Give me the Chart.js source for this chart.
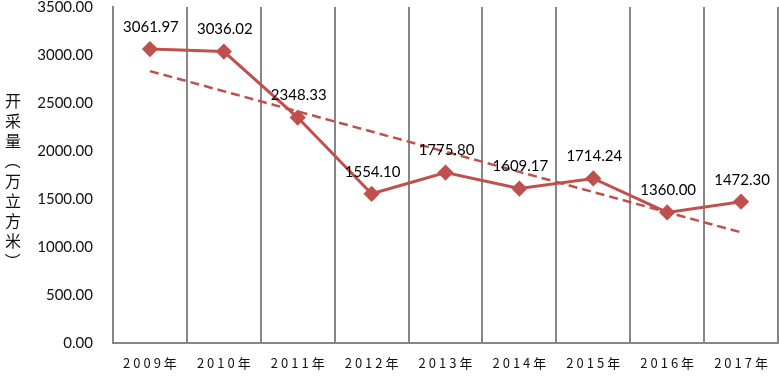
<!DOCTYPE html>
<html><head><meta charset="utf-8">
<script src="https://cdn.jsdelivr.net/npm/chart.js@4/dist/chart.umd.min.js"></script>
<style>html,body{margin:0;padding:0;background:#fff}#wrap{width:779px;height:377px}</style>
</head><body><div id="wrap"><canvas id="c"></canvas></div>
<script>
const categories = ['2009年','2010年','2011年','2012年','2013年','2014年','2015年','2016年','2017年'];
const values = [3061.97, 3036.02, 2348.33, 1554.10, 1775.80, 1609.17, 1714.24, 1360.00, 1472.30];
const yTicks = [0, 500, 1000, 1500, 2000, 2500, 3000, 3500];
const yTitle = '开采量（万立方米）';

// linear trend line (least squares) through the series, like a spreadsheet trendline
const n = values.length;
const mx = (n - 1) / 2;
const my = values.reduce((a, b) => a + b, 0) / n;
let sxy = 0, sxx = 0;
values.forEach((v, i) => { sxy += (i - mx) * (v - my); sxx += (i - mx) * (i - mx); });
const slope = sxy / sxx;
const trend = values.map((v, i) => my + slope * (i - mx));

const RED = '#C0504D';
const GRID = '#878787';

function zeroPad(s) { s.paddingTop = 0; s.paddingBottom = 0; s.paddingLeft = 0; s.paddingRight = 0; }

const labelsPlugin = {
  id: 'extras',
  afterDraw(chart) {
    const ctx = chart.ctx;
    const meta = chart.getDatasetMeta(0);
    ctx.save();
    ctx.fillStyle = '#000';
    ctx.font = '15px Lato';
    ctx.textAlign = 'center';
    ctx.textBaseline = 'middle';
    meta.data.forEach((pt, i) => {
      ctx.fillText(values[i].toFixed(2), pt.x + 1, pt.y - 22);
    });
    const xs = chart.scales.x;
    ctx.font = '13px "Noto Sans CJK SC"';
    ctx.letterSpacing = '3px';
    ctx.fillStyle = '#111';
    categories.forEach((c, i) => {
      ctx.fillText(c, xs.getPixelForValue(i) + 1.5, 363);
    });
    ctx.letterSpacing = '0px';
    ctx.font = '16px "Noto Sans CJK SC"';
    const chars = Array.from(yTitle);
    chars.forEach((ch, i) => {
      const y = 101 + i * 20;
      if (ch === '（' || ch === '）') {
        ctx.save();
        ctx.translate(13, y);
        ctx.rotate(Math.PI / 2);
        ctx.fillText(ch, 0, 0);
        ctx.restore();
      } else {
        ctx.fillText(ch, 13, y);
      }
    });
    ctx.restore();
  }
};

new Chart(document.getElementById('c'), {
  type: 'line',
  data: {
    labels: categories,
    datasets: [
      { data: values, borderColor: RED, backgroundColor: RED, borderWidth: 3, pointStyle: 'rectRot', pointRadius: 6, pointHoverRadius: 6, tension: 0, order: 1, clip: false },
      { data: trend, borderColor: RED, borderWidth: 2.5, borderDash: [9, 5], pointRadius: 0, tension: 0, order: 2, clip: false }
    ]
  },
  options: {
    responsive: true,
    maintainAspectRatio: false,
    animation: false,
    events: [],
    layout: { autoPadding: false, padding: { left: 0, right: 1, top: 7, bottom: 0 } },
    plugins: { legend: { display: false }, tooltip: { enabled: false } },
    scales: {
      x: {
        offset: true,
        grid: { display: true, offset: true, color: GRID, lineWidth: 2, drawTicks: false },
        border: { display: true, color: GRID, width: 2 },
        ticks: { display: false },
        afterFit(s) { s.height = 34; zeroPad(s); }
      },
      y: {
        min: 0, max: 3500,
        afterBuildTicks(s) { s.ticks = yTicks.map(v => ({ value: v })); },
        grid: { display: false, drawTicks: false },
        border: { display: true, color: GRID, width: 2 },
        ticks: { color: '#111', font: { family: 'Lato', size: 15 }, padding: 20, callback: v => Number(v).toFixed(2) },
        afterFit(s) { s.width = 113; zeroPad(s); }
      }
    }
  },
  plugins: [labelsPlugin]
});
</script>
</body></html>
